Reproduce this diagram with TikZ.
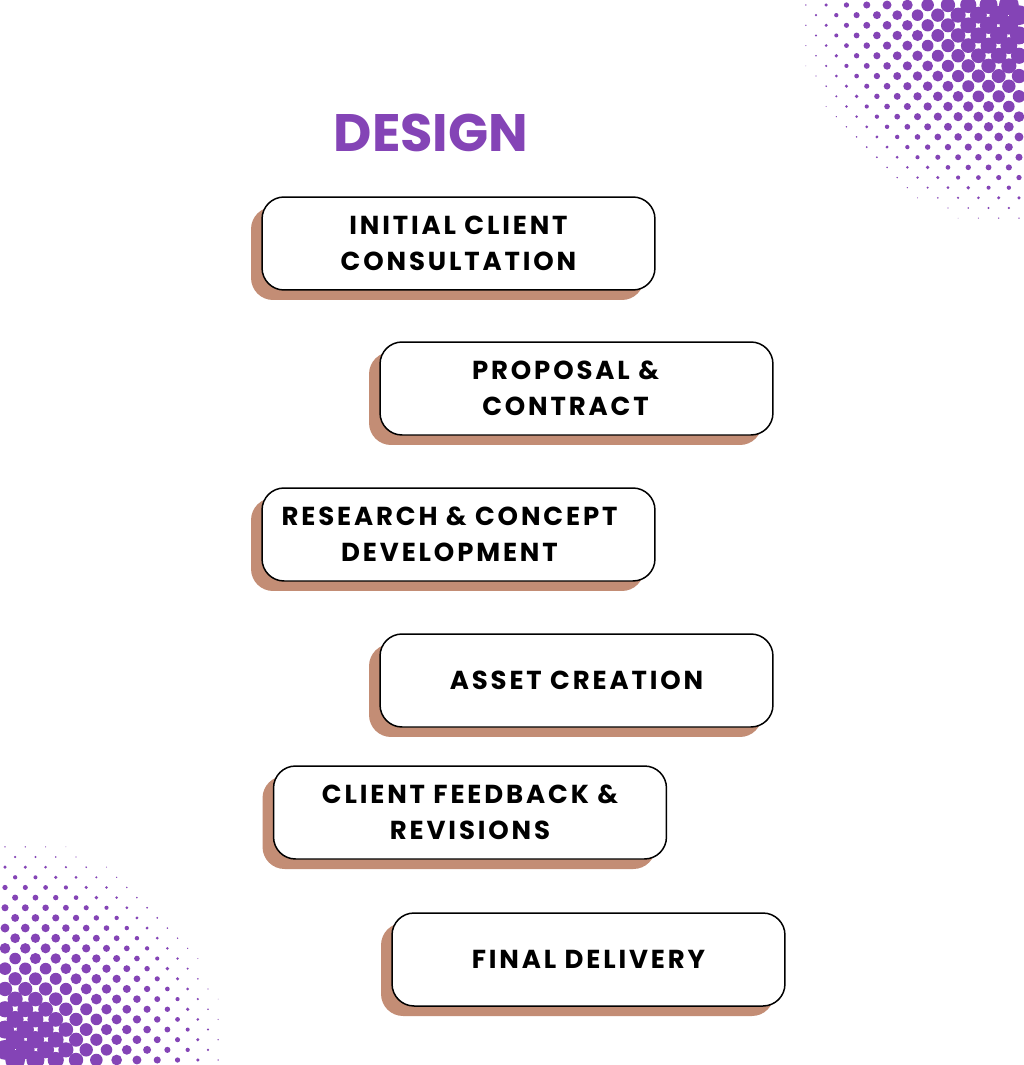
\documentclass[tikz,border=0pt]{standalone}
\usepackage{fontspec}
\usetikzlibrary{shadows}
\setmainfont{Poppins}
\newfontfamily\stepfont[LetterSpace=11]{Poppins}
\definecolor{dotP}{HTML}{8444B6}
\definecolor{shadowF}{HTML}{C38D75}
\tikzset{
  stepbox/.style={draw=black, line width=0.85pt, fill=white, rounded corners=0.44cm,
              minimum width=7.86cm, minimum height=1.86cm, align=center,
              font=\stepfont\bfseries\fontsize{14.8}{20.5}\selectfont,
              drop shadow={shadow xshift=-0.22cm, shadow yshift=-0.2cm,
                           fill=shadowF, opacity=1}},
  headline/.style={font=\bfseries\fontsize{30}{36}\selectfont, text=dotP},
  halfdot/.style={fill=dotP},
}

\begin{document}
\begin{tikzpicture}[x=0.02cm, y=-0.02cm]
  \useasboundingbox (0,0) rectangle (1024,1065);
  \fill[white] (0,0) rectangle (1024,1065);

  % halftone corners, dots shrink away from the corner
  \begin{scope}
    \clip (0,0) rectangle (1024,1065);
    \foreach \cx/\cy/\sx/\sy in {1024/0/-1/1, 0/1065/1/-1} {
      \begin{scope}[shift={(\cx,\cy)}, xscale=\sx, yscale=\sy]
        \foreach \i in {0,...,24} {
          \foreach \j in {0,...,24} {
            \pgfmathsetmacro{\u}{5+10.15*\i}
            \pgfmathsetmacro{\v}{5+10.15*\j}
            \pgfmathsetmacro{\r}{0.045*(236-veclen(\u,\v))*0.569}
            \pgfmathtruncatemacro{\ok}{(mod(\i+\j,2)==1) && (\r>0.2)}
            \ifnum\ok=1
              \fill[halfdot] (\u,\v) circle[radius=\r pt];
            \fi
          }
        }
      \end{scope}
    }
  \end{scope}

  \node[headline] (title) at (431,133) {DESIGN};

  % steps, zig-zag down the page
  \node[stepbox] (consult) at (458.5,243.5) {INITIAL CLIENT\\ CONSULTATION};
  \node[stepbox] (proposal) at (576.5,388.5)
    {PROPOSAL \&\hspace*{0.44cm}\\ CONTRACT\hspace*{0.44cm}};
  \node[stepbox] (research) at (458.5,534.5)
    {RESEARCH \& CONCEPT\hspace*{0.36cm}\\ DEVELOPMENT\hspace*{0.36cm}};
  \node[stepbox] (asset) at (576.5,680.5) {ASSET CREATION};
  \node[stepbox] (feedback) at (470,812.5) {CLIENT FEEDBACK \&\\ REVISIONS};
  \node[stepbox] (delivery) at (588.5,959.5) {FINAL DELIVERY};
\end{tikzpicture}
\end{document}
